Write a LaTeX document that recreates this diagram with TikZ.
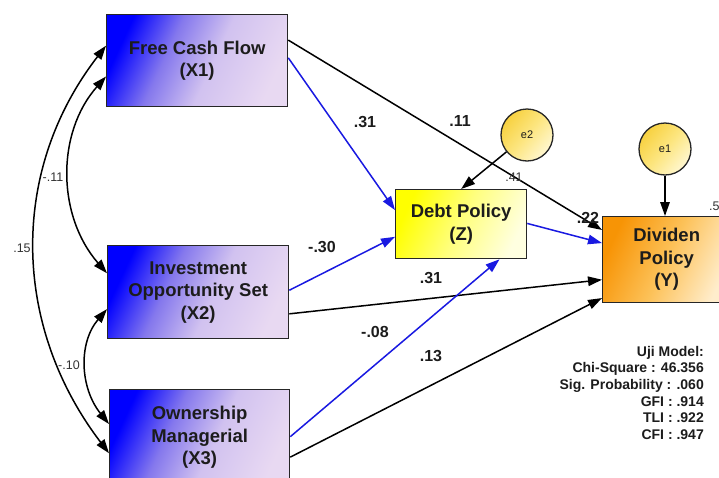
\documentclass[tikz,border=0pt]{standalone}
\usepackage{fontspec}
\setmainfont{Liberation Sans}
\usetikzlibrary{arrows.meta,calc}
\definecolor{pathblue}{RGB}{25,25,225}
\definecolor{txt}{RGB}{28,28,28}
\pgfdeclarehorizontalshading{xshade}{100bp}{rgb(0bp)=(0,0,1); rgb(25bp)=(0,0,1); rgb(40bp)=(0.52,0.47,0.93); rgb(55bp)=(0.82,0.76,0.94); rgb(75bp)=(0.91,0.85,0.95); rgb(100bp)=(0.91,0.85,0.95)}
\pgfdeclarehorizontalshading{zshade}{100bp}{rgb(0bp)=(1,1,0); rgb(25bp)=(1,1,0); rgb(50bp)=(1,1,0.5); rgb(75bp)=(1,1,0.88); rgb(100bp)=(1,1,0.88)}
\pgfdeclarehorizontalshading{yshade}{100bp}{rgb(0bp)=(0.97,0.58,0.02); rgb(25bp)=(0.97,0.58,0.02); rgb(50bp)=(0.99,0.76,0.35); rgb(75bp)=(1,0.93,0.8); rgb(100bp)=(1,0.93,0.8)}
\pgfdeclarehorizontalshading{eshade}{100bp}{rgb(0bp)=(0.97,0.82,0.25); rgb(25bp)=(0.97,0.82,0.25); rgb(50bp)=(0.99,0.9,0.5); rgb(75bp)=(1,0.97,0.82); rgb(100bp)=(1,0.97,0.82)}
\tikzset{
  boxfont/.style={font=\fontsize{18.5}{22.5}\selectfont\bfseries, text=txt, align=center},
  xbox/.style={draw=black!85, line width=1.3pt, shading=xshade, shading angle=-25, boxfont, anchor=north west, inner sep=0pt},
  zbox/.style={draw=black!85, line width=1.3pt, shading=zshade, shading angle=-25, boxfont, anchor=north west, inner sep=0pt},
  ybox/.style={draw=black!85, line width=1.3pt, shading=yshade, shading angle=-25, boxfont, anchor=north west, inner sep=0pt},
  errc/.style={circle, draw=black!85, line width=1.3pt, shading=eshade, shading angle=-40, minimum size=52pt, inner sep=0pt, font=\fontsize{11}{13}\selectfont, text=txt},
  blk/.style={line width=1.5pt, draw=black, -{Triangle[length=14pt,width=9.5pt]}},
  blu/.style={line width=1.5pt, draw=pathblue, -{Triangle[length=14pt,width=9.5pt]}},
  cov/.style={line width=1.5pt, draw=black, {Triangle[length=14pt,width=9.5pt]}-{Triangle[length=14pt,width=9.5pt]}},
  coef/.style={font=\fontsize{16}{18}\selectfont\bfseries, text=txt, inner sep=0pt},
  small/.style={font=\fontsize{12.5}{14}\selectfont, text=black!80, inner sep=0pt}
}
\begin{document}
\begin{tikzpicture}[x=1pt,y=-1pt]
\useasboundingbox (0,0) rectangle (719,477);
\clip (0,0) rectangle (719,477);
\fill[white] (0,0) rectangle (719,477);

% boxes
\node[xbox, minimum width=181pt, minimum height=92pt] (X1) at (106,14) {Free Cash Flow\\(X1)};
\node[xbox, minimum width=181pt, minimum height=93pt] (X2) at (107,245) {Investment\\Opportunity Set\\(X2)};
\node[xbox, minimum width=180pt, minimum height=96pt] (X3) at (109,389) {Ownership\\Managerial\\(X3)};
\node[zbox, minimum width=131pt, minimum height=69pt] (Z) at (395,189) {Debt Policy\\(Z)};
\node[ybox, minimum width=128pt, minimum height=86pt] (Y) at (602,216) {Dividen\\Policy\\(Y)};
\node[errc] (e2) at (527,135) {e2};
\node[errc] (e1) at (665,149) {e1};

% paths
\draw[blk] ($(X1.north east)!0.28!(X1.south east)$) -- ($(Y.north west)!0.16!(Y.south west)$);
\draw[blu] ($(X1.north east)!0.47!(X1.south east)$) -- ($(Z.north west)!0.30!(Z.south west)$);
\draw[blu] ($(X2.north east)!0.48!(X2.south east)$) -- ($(Z.north west)!0.68!(Z.south west)$);
\draw[blk] ($(X2.north east)!0.73!(X2.south east)$) -- ($(Y.north west)!0.73!(Y.south west)$);
\draw[blu] ($(X3.north east)!0.49!(X3.south east)$) -- ($(Z.south west)!0.79!(Z.south east)$);
\draw[blk] ($(X3.north east)!0.70!(X3.south east)$) -- ($(Y.north west)!0.94!(Y.south west)$);
\draw[blu] ($(Z.north east)!0.49!(Z.south east)$) -- ($(Y.north west)!0.31!(Y.south west)$);
\draw[blk] (e2) -- (Z.north);
\draw[blk] (e1) -- (e1 |- Y.north);

% covariances
\draw[cov] ($(X1.north west)!0.34!(X1.south west)$) .. controls (9,171) and (12,326) .. ($(X3.north west)!0.66!(X3.south west)$);
\draw[cov] ($(X1.north west)!0.67!(X1.south west)$) .. controls (56,133) and (57,216) .. ($(X2.north west)!0.30!(X2.south west)$);
\draw[cov] ($(X2.north west)!0.68!(X2.south west)$) .. controls (78,343) and (80,388) .. ($(X3.north west)!0.36!(X3.south west)$);

% labels
\node[coef] (l1) at (365,122) {.31};
\node[coef] (l2) at (460,121) {.11};
\node[coef] (l3) at (322,247) {-.30};
\node[coef] (l4) at (431,278) {.31};
\node[coef] (l5) at (375,332) {-.08};
\node[coef] (l6) at (431,356) {.13};
\node[coef] (l7) at (588,218) {.22};
\node[small] (r1) at (514,177) {.41};
\node[small, anchor=west] (r2) at (709,206) {.5};
\node[small] (c1) at (53,177) {-.11};
\node[small] (c2) at (22,248) {.15};
\node[small] (c3) at (69,365) {-.10};

% fit
\node[anchor=north east, align=right, inner sep=0pt, font=\fontsize{14}{16.6}\selectfont\bfseries, text=txt] (fit) at (704,346)
  {Uji Model:\\Chi-Square : 46.356\\Sig. Probability : .060\\GFI : .914\\TLI : .922\\CFI : .947};
\end{tikzpicture}
\end{document}
